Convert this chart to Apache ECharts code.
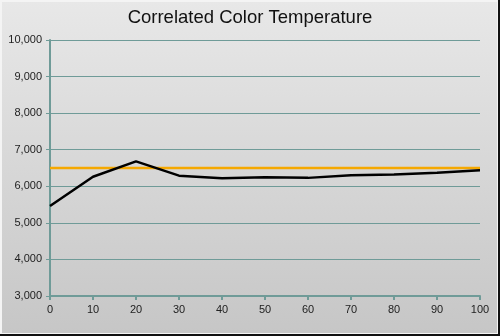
<!DOCTYPE html>
<html>
<head>
<meta charset="utf-8">
<style>
  html, body { margin: 0; padding: 0; }
  #chart { width: 500px; height: 336px; }
</style>
<script src="https://cdn.jsdelivr.net/npm/echarts@6/dist/echarts.min.js"></script>
</head>
<body>
<div id="chart"></div>
<script>
// Stimulus level (%) and measured colour temperature (K)
const levels = [0, 10, 20, 30, 40, 50, 60, 70, 80, 90, 100];
const cctMeasured = [5460, 6260, 6680, 6290, 6220, 6250, 6230, 6300, 6320, 6370, 6440];
const cctTarget = [6500, 6500, 6500, 6500, 6500, 6500, 6500, 6500, 6500, 6500, 6500];

const axisColor = '#6f9b98';
const chart = echarts.init(document.getElementById('chart'), null, { renderer: 'canvas' });

chart.setOption({
  animation: false,
  backgroundColor: {
    type: 'linear', x: 0, y: 0, x2: 0, y2: 1,
    colorStops: [
      { offset: 0, color: '#e8e8e8' },
      { offset: 1, color: '#c6c6c6' }
    ]
  },
  title: {
    text: 'Correlated Color Temperature',
    left: 'center',
    top: 3,
    textStyle: {
      fontFamily: 'Liberation Sans, Arial, sans-serif',
      fontSize: 18.5,
      fontWeight: 'normal',
      color: '#111'
    }
  },
  grid: { left: 50, right: 20, top: 40, bottom: 40 },
  xAxis: {
    type: 'value',
    min: 0, max: 100, interval: 10,
    axisLine: { show: true, lineStyle: { color: axisColor, width: 2 } },
    axisTick: { show: true, inside: false, length: 4, lineStyle: { color: axisColor, width: 2 } },
    axisLabel: {
      color: '#222', fontSize: 11, margin: 8,
      fontFamily: 'Liberation Sans, Arial, sans-serif'
    },
    splitLine: { show: false }
  },
  yAxis: {
    type: 'value',
    min: 3000, max: 10000, interval: 1000,
    axisLine: { show: true, lineStyle: { color: axisColor, width: 2 } },
    axisTick: { show: true, length: 4, lineStyle: { color: axisColor, width: 1 } },
    axisLabel: {
      color: '#222', fontSize: 11, margin: 8,
      fontFamily: 'Liberation Sans, Arial, sans-serif',
      formatter: v => v.toLocaleString('en-US')
    },
    splitLine: { show: true, lineStyle: { color: axisColor, width: 1 } }
  },
  series: [
    {
      name: 'Target',
      type: 'line',
      data: levels.map((x, i) => [x, cctTarget[i]]),
      symbol: 'none',
      lineStyle: { color: '#f5a800', width: 2.5 },
      z: 2
    },
    {
      name: 'Measured',
      type: 'line',
      data: levels.map((x, i) => [x, cctMeasured[i]]),
      symbol: 'none',
      lineStyle: { color: '#000', width: 2.5 },
      z: 3
    }
  ],
  graphic: [
    {
      type: 'rect',
      shape: { x: 1, y: 1, width: 497, height: 333 },
      style: { fill: 'none', stroke: '#f4f4f4', lineWidth: 2 },
      silent: true
    },
    {
      type: 'polyline',
      shape: { points: [[499, 0], [499, 335], [0, 335]] },
      style: { stroke: '#111', lineWidth: 2, fill: 'none' },
      silent: true
    }
  ]
});
</script>
</body>
</html>
